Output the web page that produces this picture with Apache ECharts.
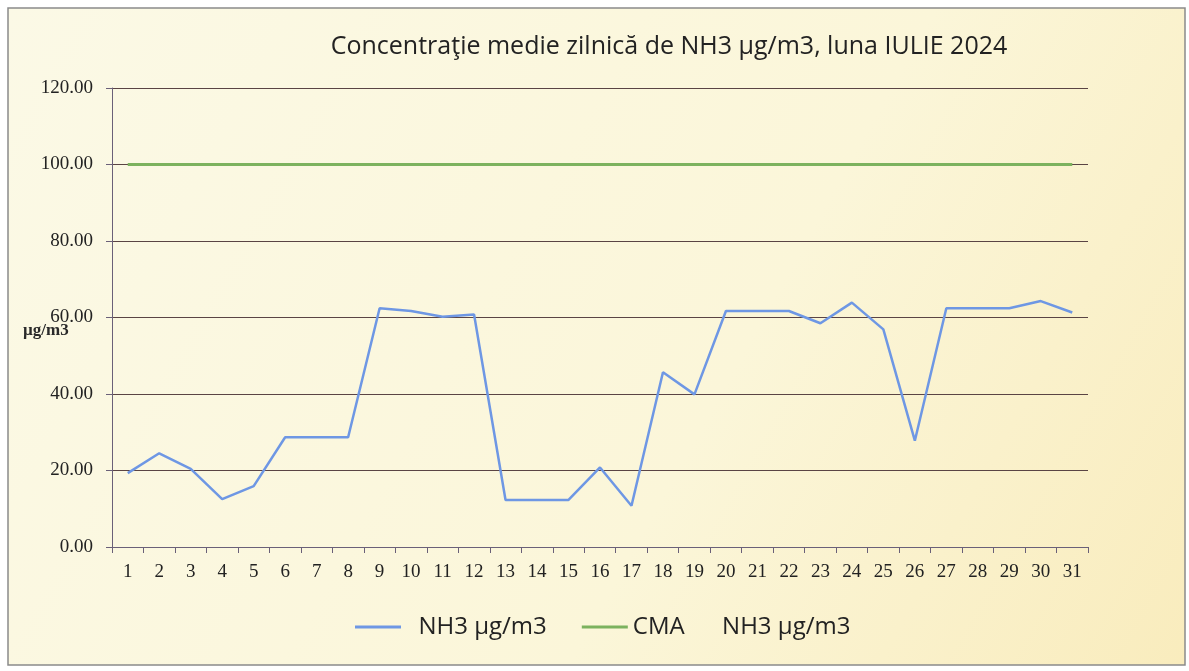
<!DOCTYPE html>
<html><head><meta charset="utf-8">
<script src="https://cdn.jsdelivr.net/npm/echarts@6/dist/echarts.min.js"></script>
<style>html,body{margin:0;padding:0;background:#fff}#c{width:1189px;height:671px}</style>
</head><body><div id="c"></div>
<script>
const days = Array.from({length:31},(_,i)=>String(i+1));
const nh3 = [19.3,24.5,20.4,12.5,15.9,28.7,28.7,28.7,62.4,61.7,60.2,60.8,12.3,12.3,12.3,20.8,10.8,45.7,39.9,61.7,61.7,61.7,58.5,63.9,56.9,27.8,62.4,62.4,62.4,64.3,61.3];
const cma = days.map(()=>100);
const yTicks = {min:0,max:120,interval:20};
const titleText = 'Concentraţie medie zilnică de NH3 µg/m3, luna IULIE 2024';
const unitText = 'µg/m3';

const chart = echarts.init(document.getElementById('c'));
chart.setOption({
  animation:false,
  backgroundColor:'#ffffff',
  graphic:[
    {type:'rect',shape:{x:8,y:8,width:1177,height:657},z:-10,
     style:{fill:new echarts.graphic.LinearGradient(0,0,1,1,[{offset:0,color:'#fbf9e6'},{offset:0.6,color:'#fbf6d9'},{offset:1,color:'#f9ecbd'}]),stroke:'#8a8a8a',lineWidth:1.5}},
    {type:'text',left:23,top:322,z:10,style:{text:unitText,font:'bold 17px "Liberation Serif"',fill:'#2a2a2a'}}
  ],
  title:{text:titleText,left:664,top:29,textAlign:'center',
    textStyle:{fontFamily:'"Open Sans", "Noto Sans", sans-serif',fontWeight:'normal',fontSize:25,color:'#222'}},
  legend:{bottom:27,left:350,itemWidth:46,itemHeight:3,itemGap:35,icon:'rect',
    formatter:n=> n==='NH3 µg/m3' ? '  '+n : n.replace('CMA   ','CMA      '),
    textStyle:{fontFamily:'"Open Sans", "Noto Sans", sans-serif',fontSize:24,color:'#222'},
    data:['NH3 µg/m3','CMA   NH3 µg/m3']},
  grid:{left:112,right:101,top:88,bottom:124},
  xAxis:{type:'category',data:days,boundaryGap:true,
    axisLine:{lineStyle:{color:'#6a6078',width:1}},
    axisTick:{show:true,length:6,lineStyle:{color:'#6a6078'}},
    axisLabel:{fontFamily:'"Liberation Serif", serif',fontSize:19,color:'#222',margin:16}},
  yAxis:{type:'value',min:yTicks.min,max:yTicks.max,interval:yTicks.interval,
    axisLine:{show:true,lineStyle:{color:'#6a6078',width:1}},
    axisTick:{show:true,length:6,lineStyle:{color:'#6a6078'}},
    axisLabel:{fontFamily:'"Liberation Serif", serif',fontSize:19,color:'#222',margin:19,
      formatter:v=>v.toFixed(2)},
    splitLine:{lineStyle:{color:'#5a4444',width:1}}},
  series:[
    {name:'NH3 µg/m3',type:'line',data:nh3,showSymbol:false,symbol:'none',
     lineStyle:{color:'#6e97e4',width:2.5},itemStyle:{color:'#6e97e4'}},
    {name:'CMA   NH3 µg/m3',type:'line',data:cma,showSymbol:false,symbol:'none',
     lineStyle:{color:'#7cb25e',width:3},itemStyle:{color:'#7cb25e'}}
  ]
});
</script></body></html>
